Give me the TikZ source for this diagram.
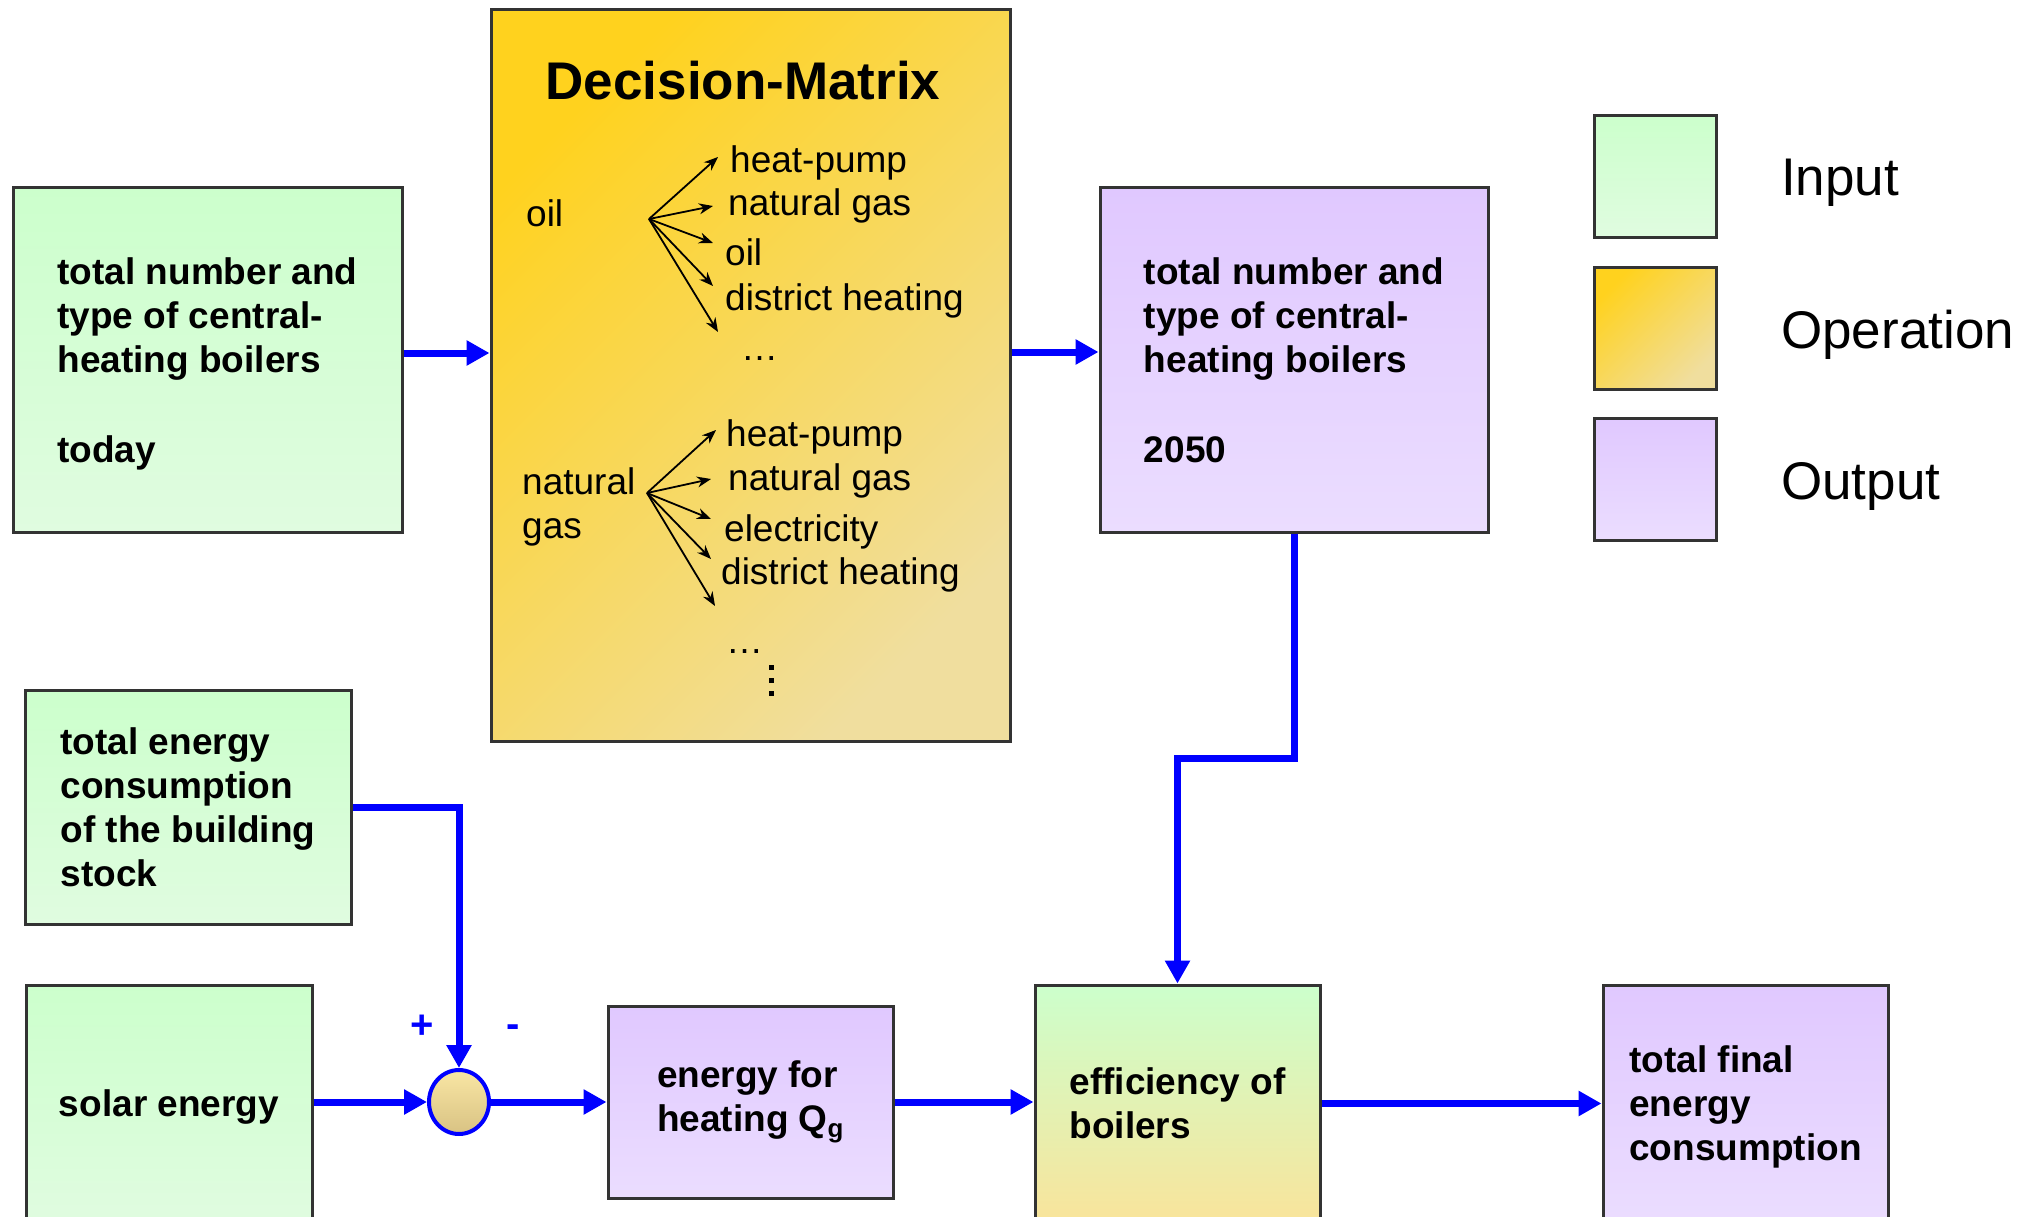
\documentclass[tikz,border=0pt]{standalone}
\usepackage{fontspec}
\setmainfont{Liberation Sans}
\usepackage{xcolor}
\usetikzlibrary{positioning,arrows.meta,shapes.geometric}
\definecolor{inTop}{HTML}{CCFFCC}
\definecolor{inBot}{HTML}{E0FCE0}
\definecolor{outTop}{HTML}{E0C8FF}
\definecolor{outBot}{HTML}{EBDDFF}
\definecolor{opTop}{HTML}{FFD21E}
\definecolor{opBot}{HTML}{F0DE9E}
\definecolor{effBot}{HTML}{F9E49B}
\definecolor{sumTop}{HTML}{F9E6A4}
\definecolor{sumBot}{HTML}{D8C283}
\definecolor{flowblue}{HTML}{0000FF}
\newcommand{\boxfont}{\fontsize{37}{44}\selectfont\bfseries}
\newcommand{\matfont}{\fontsize{37}{44}\selectfont}
\newcommand{\bigfont}{\fontsize{53}{60}\selectfont}

\begin{document}
\begin{tikzpicture}[x=1pt,y=-1pt,
  box/.style={draw=black!80,line width=3pt,align=left,font=\boxfont,inner sep=0pt},
  inbox/.style={box,top color=inTop,bottom color=inBot},
  outbox/.style={box,top color=outTop,bottom color=outBot},
  opbox/.style={box,top color=opTop,bottom color=opBot,shading angle=45},
  legbox/.style={minimum width=122,minimum height=122},
  flow/.style={draw=flowblue,line width=7pt,-{Triangle[length=23pt,width=24pt]}},
  fan/.style={line width=1.8pt,-{Stealth[length=14pt,width=11pt]}},
  lbl/.style={anchor=west,inner sep=0pt,font=\matfont},
  legtxt/.style={anchor=west,inner sep=0pt,font=\bigfont},
  sign/.style={text=flowblue,inner sep=0pt,font=\fontsize{40}{40}\selectfont\bfseries}]
  \useasboundingbox (0,0) rectangle (2038,1217);
  \clip (0,0) rectangle (2038,1217);

  % top row
  \node[inbox,minimum width=389,minimum height=344] (today) at (207.5,360)
    {total number and\\type of central-\\heating boilers\\[46pt]\smash{today}};
  \node[opbox,minimum width=519,minimum height=731] (dm) at (750.5,375.5) {};
  \node[outbox,minimum width=388,minimum height=344] (yr2050) at (1294,360)
    {total number and\\type of central-\\heating boilers\\[46pt]2050};

  % inside the decision matrix
  \node[font=\bigfont\bfseries,inner sep=0pt] (dmtitle) at (743,81) {Decision-Matrix};
  \node[lbl] (srcoil) at (526,213) {oil};
  \node[lbl,align=left] (srcgas) at (522,507) {natural\\gas};
  \coordinate (oilfan) at (649,219);
  \coordinate (gasfan) at (647,493);
  \foreach \x/\y in {718/157,713/206,713/243,713/286,718/332}
    \draw[fan] (oilfan) -- (\x,\y);
  \foreach \x/\y in {716/430,711/479,711/519,711/559,715/606}
    \draw[fan] (gasfan) -- (\x,\y);
  \node[lbl] (o1) at (730,163) {heat-pump};
  \node[lbl] (o2) at (728,206) {natural gas};
  \node[lbl] (o3) at (725,252) {oil};
  \node[lbl] (o4) at (725,301) {district heating};
  \node[lbl,anchor=base west] (o5) at (741,360) {…};
  \node[lbl] (g1) at (726,437) {heat-pump};
  \node[lbl] (g2) at (728,481) {natural gas};
  \node[lbl] (g3) at (724,532) {electricity};
  \node[lbl] (g4) at (721,575) {district heating};
  \node[lbl,anchor=base west] (g5) at (726,653) {…};
  % vertical dots
  \foreach \y in {667,680,693}
    \fill (768.5,\y-2.5) rectangle (773.5,\y+2.5);

  % legend
  \node[inbox,legbox] (legin) at (1655,177) {};
  \node[opbox,legbox] (legop) at (1655,328.5) {};
  \node[outbox,legbox] (legout) at (1655,479) {};
  \node[legtxt] (legintxt) at (1781,183) {Input};
  \node[legtxt] (legoptxt) at (1781,335) {Operation};
  \node[legtxt] (legouttxt) at (1781,486) {Output};

  % bottom row
  \node[inbox,minimum width=326,minimum height=234] (cons) at (188,807)
    {total energy\\consumption\\of the building\\stock};
  \node[inbox,minimum width=286,minimum height=237] (solar) at (169,1103.5) {\smash{solar energy}\vphantom{l}};
  \node[ellipse,draw=flowblue,line width=4pt,minimum width=60,minimum height=64,inner sep=0pt,
    top color=sumTop,bottom color=sumBot] (sum) at (459,1102) {};
  \node[sign] (plus) at (422,1027) {+};
  \node[sign] (minus) at (513,1031) {-};
  \node[outbox,minimum width=285,minimum height=192] (heat) at (750.5,1102)
    {energy for\\heating Q\textsubscript{g}};
  \node[box,top color=inTop,bottom color=effBot,minimum width=285,minimum height=237] (eff)
    at (1177.5,1103.5) {efficiency of\\boilers};
  \node[outbox,minimum width=285,minimum height=237] (final) at (1745.5,1103.5)
    {total final\\energy\\\smash{consumption}};

  % connectors
  \draw[flow] ([yshift=7pt]today.east) -- ([yshift=7pt]today.east -| dm.west);
  \draw[flow] ([yshift=8pt]yr2050.west -| dm.east) -- ([yshift=8pt]yr2050.west);
  \coordinate (bend) at (1294,758);
  \draw[flow] (yr2050.south) -- (bend) -| (eff.north);
  \draw[flow] (cons.east) -| (sum.north);
  \draw[flow] (solar.east |- sum.west) -- (sum.west);
  \draw[flow] (sum.east) -- (heat.west);
  \draw[flow] (heat.east) -- (heat.east -| eff.west);
  \draw[flow] (eff.east) -- (final.west);
\end{tikzpicture}
\end{document}
